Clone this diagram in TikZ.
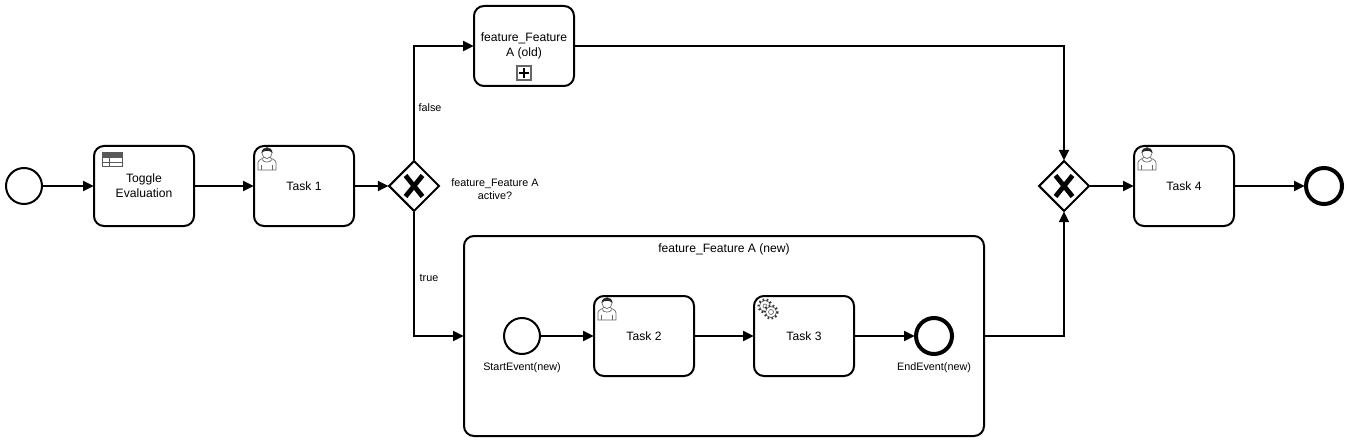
\documentclass[tikz,border=0pt]{standalone}
\usepackage{fontspec}
\setmainfont{Liberation Sans}
\usetikzlibrary{shapes.geometric,arrows.meta}
\tikzset{
  x=0.75pt,y=-0.75pt,
  flowline/.style={line width=1.5pt,shorten >=-0.6pt,-{Triangle[length=8pt,width=7.5pt]}},
  taskbox/.style={draw,line width=1.5pt,rounded corners=7.5pt,minimum width=75pt,minimum height=60pt,inner sep=1pt,align=center,font=\fontsize{9.1}{11.2}\selectfont,fill=white},
  startev/.style={circle,draw,line width=1.5pt,minimum size=27pt,inner sep=0pt,fill=white},
  endev/.style={circle,draw,line width=3pt,minimum size=27pt,inner sep=0pt,fill=white},
  gatewayshape/.style={diamond,aspect=1,draw,line width=1.5pt,minimum size=38pt,inner sep=0pt,fill=white},
  smalllabel/.style={font=\fontsize{8.1}{9.8}\selectfont,align=center,inner sep=0pt},
  iconline/.style={draw=black!60,line width=0.5pt},
  pics/xmark/.style={code={
    \draw[line width=3.6pt] (-8.5,-10.5)--(8.5,10.5);
    \draw[line width=3.6pt] (8.5,-10.5)--(-8.5,10.5);
  }},
  pics/usericon/.style={code={
    \draw[iconline,fill=white] (-9,14) -- (-9,7) .. controls (-9,3.5) and (-5,3.5) .. (-3,1.5) -- (3,1.5) .. controls (5,3.5) and (9,3.5) .. (9,7) -- (9,14) -- cycle;
    \draw[iconline,fill=white] (0,-3) circle[x radius=5,y radius=5.5];
    \fill[black!85] (-5.5,-3) .. controls (-5.5,-10) and (5.5,-10) .. (5.5,-3) .. controls (3,-6) and (-3,-6) .. (-5.5,-3) -- cycle;
    \draw[iconline] (-5,3.5) .. controls (-3,7) and (3,7) .. (5,3.5);
    \draw[iconline] (-5.5,9)--(-5.5,14) (5.5,9)--(5.5,14);
  }},
  pics/tableicon/.style={code={
    \fill[black!65] (0,0) rectangle (20,5);
    \draw[line width=0.75pt,black!65] (0,0) rectangle (20,14);
    \draw[line width=0.5pt,black!65] (0,9.5)--(20,9.5) (7,5)--(7,14);
  }},
  pics/gearicon/.style={code={
    \draw[iconline,fill=white] (0,0) circle[radius=5.5];
    \draw[black!80,line width=1.6pt,dash pattern=on 1.2pt off 1.8pt] (0,0) circle[radius=6.5];
    \fill[white] (0,0) circle[radius=2];
    \draw[iconline] (0,0) circle[radius=2];
    \fill[white] (6,6) circle[radius=7];
    \draw[iconline,fill=white] (6,6) circle[radius=5.5];
    \draw[black!80,line width=1.6pt,dash pattern=on 1.2pt off 1.8pt] (6,6) circle[radius=6.5];
    \draw[iconline] (6,6) circle[radius=2.5];
  }},
  pics/plusicon/.style={code={
    \draw[line width=0.9pt,black!60,fill=white] (-7,-7) rectangle (7,7);
    \draw[line width=1.6pt] (-5,0)--(5,0) (0,-5)--(0,5);
  }}
}
\begin{document}
\begin{tikzpicture}
\useasboundingbox (0,0) rectangle (1348,442);
\node[startev] (start) at (24,186) {};
\node[taskbox] (toggle) at (144,186) {Toggle\\Evaluation};
\node[taskbox] (task1) at (304,186) {Task 1};
\node[gatewayshape] (gw1) at (414,186) {};
\node[taskbox] (old) at (524,46) {feature\_Feature\\A (old)};
\node[taskbox,minimum width=390pt,minimum height=150pt] (sub) at (724,336) {};
\node[font=\fontsize{9.1}{11.2}\selectfont,inner sep=0pt] (subtitle) at (724,249) {feature\_Feature A (new)};
\node[startev] (startnew) at (522,336) {};
\node[taskbox] (task2) at (644,336) {Task 2};
\node[taskbox] (task3) at (804,336) {Task 3};
\node[endev] (endnew) at (934,336) {};
\node[gatewayshape] (gw2) at (1064,186) {};
\node[taskbox] (task4) at (1184,186) {Task 4};
\node[endev] (endev) at (1324,186) {};
\node[smalllabel] (lfalse) at (430,108) {false};
\node[smalllabel] (ltrue) at (429,278) {true};
\node[smalllabel] (lgw) at (495,189) {feature\_Feature A\\active?};
\node[smalllabel] (lstart) at (522,368) {StartEvent(new)};
\node[smalllabel] (lend) at (934,368) {EndEvent(new)};
\pic at (414,186) {xmark};
\pic at (1064,186) {xmark};
\pic at (102,153) {tableicon};
\pic at (267,156) {usericon};
\pic at (607,306) {usericon};
\pic at (1147,156) {usericon};
\pic at (765,306) {gearicon};
\pic at (524,73) {plusicon};
\draw[flowline] (start) -- (toggle);
\draw[flowline] (toggle) -- (task1);
\draw[flowline] (task1) -- (gw1);
\draw[flowline] (gw1.north) |- (old.west);
\draw[flowline] (gw1.south) |- (sub.west);
\draw[flowline] (startnew) -- (task2);
\draw[flowline] (task2) -- (task3);
\draw[flowline] (task3) -- (endnew);
\draw[flowline] (old.east) -| (gw2.north);
\draw[flowline] (sub.east) -| (gw2.south);
\draw[flowline] (gw2) -- (task4);
\draw[flowline] (task4) -- (endev);
\end{tikzpicture}
\end{document}
